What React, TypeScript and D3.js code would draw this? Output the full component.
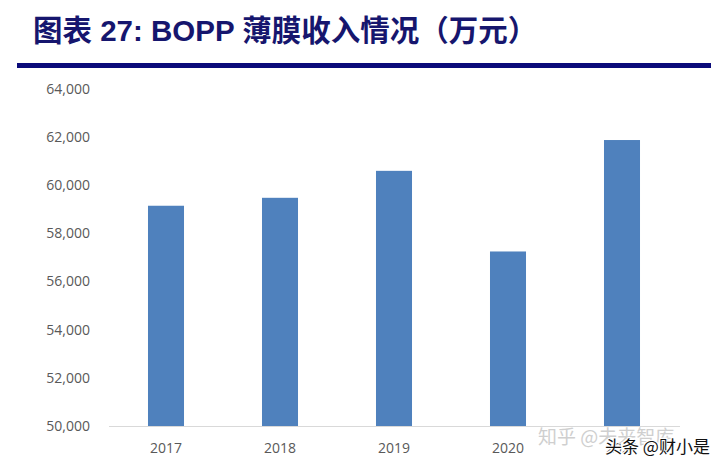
import React from "react";
import * as d3 from "d3";

const categories = ["2017", "2018", "2019", "2020", "2021"];
const revenue = [59150, 59480, 60600, 57250, 61880];
const yTicks = [50000, 52000, 54000, 56000, 58000, 60000, 62000, 64000];
const titleText = "图表 27: BOPP 薄膜收入情况（万元）";

export default function App() {
  const W = 711;
  const H = 467;
  const x = d3.scaleBand<string>().domain(categories).range([109, 679]).paddingInner(0.684).paddingOuter(0.342);
  const y = d3.scaleLinear().domain([50000, 64000]).range([426, 89]);
  const fmt = d3.format(",");
  return (
    <svg width={W} height={H} style={{ position: "absolute", left: 0, top: 0, background: "#fff" }}>
      <text x={33} y={41} fontSize={29.5} fontWeight="bold" fill="#16166e" fontFamily="'Liberation Sans', 'Noto Sans CJK SC', sans-serif">
        {titleText}
      </text>
      <rect x={17} y={63} width={W - 17} height={5} fill="#0b0b7a" />
      {yTicks.map((t) => (
        <text key={t} x={90} y={y(t)} dy="0.35em" textAnchor="end" fontSize={14} fill="#595959" fontFamily="'Open Sans', sans-serif">
          {fmt(t)}
        </text>
      ))}
      {categories.map((c, i) => (
        <rect key={c} x={x(c)} y={y(revenue[i])} width={x.bandwidth()} height={y(50000) - y(revenue[i])} fill="#4f81bd" />
      ))}
      <line x1={109} x2={680} y1={y(50000) + 0.5} y2={y(50000) + 0.5} stroke="#d9d9d9" strokeWidth={1} />
      {categories.map((c) => (
        <text key={c} x={(x(c) as number) + x.bandwidth() / 2} y={448} dy="0.35em" textAnchor="middle" fontSize={14} fill="#595959" fontFamily="'Open Sans', sans-serif">
          {c}
        </text>
      ))}
      <text x={538} y={444} fontSize={19} fill="#cfcfcf" fontFamily="'Noto Sans CJK SC', sans-serif">
        知乎 @未来智库
      </text>
      <text x={605} y={453} fontSize={17} fill="#111" stroke="#fff" strokeWidth={2.5} paintOrder="stroke" fontFamily="'Noto Sans CJK SC', sans-serif">
        头条 @财小是
      </text>
    </svg>
  );
}
